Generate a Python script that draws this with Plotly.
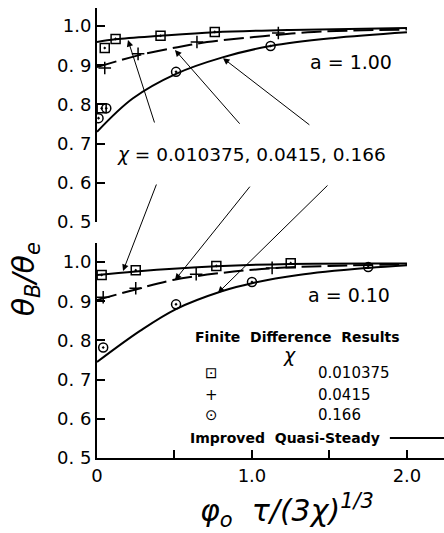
import plotly.graph_objects as go

# ---------------- data ----------------
# Top panel: a = 1.00  (Improved Quasi-Steady curves)
top_c1_x = [0, 0.12, 0.41, 0.76, 1.25, 2.0]
top_c1_y = [0.959, 0.966, 0.975, 0.984, 0.990, 0.995]
top_c2_x = [0, 0.265, 0.52, 0.71, 1.07, 1.4, 2.0]
top_c2_y = [0.895, 0.925, 0.946, 0.959, 0.974, 0.985, 0.991]
top_c3_x = [0, 0.23, 0.51, 0.81, 1.12, 1.52, 2.0]
top_c3_y = [0.73, 0.815, 0.878, 0.92, 0.949, 0.969, 0.984]
# Top panel finite difference results
top_sq_x = [0.03, 0.05, 0.12, 0.41, 0.76]
top_sq_y = [0.79, 0.944, 0.967, 0.975, 0.985]
top_pl_x = [0.05, 0.265, 0.645, 1.17]
top_pl_y = [0.893, 0.929, 0.959, 0.982]
top_ci_x = [0.01, 0.06, 0.51, 1.12]
top_ci_y = [0.765, 0.79, 0.883, 0.949]

# Bottom panel: a = 0.10
bot_c1_x = [0, 0.25, 0.77, 1.25, 2.0]
bot_c1_y = [0.967, 0.976, 0.989, 0.995, 0.996]
bot_c2_x = [0, 0.25, 0.49, 0.8, 1.13, 1.5, 2.0]
bot_c2_y = [0.903, 0.93, 0.954, 0.972, 0.984, 0.99, 0.994]
bot_c3_x = [0, 0.28, 0.51, 0.81, 1.0, 1.3, 1.75, 2.0]
bot_c3_y = [0.745, 0.825, 0.880, 0.926, 0.946, 0.967, 0.985, 0.992]
bot_sq_x = [0.03, 0.25, 0.77, 1.25]
bot_sq_y = [0.967, 0.979, 0.99, 0.997]
bot_pl_x = [0.04, 0.25, 0.64, 1.13]
bot_pl_y = [0.91, 0.933, 0.969, 0.985]
bot_ci_x = [0.04, 0.51, 1.0, 1.75]
bot_ci_y = [0.782, 0.892, 0.949, 0.987]

chi_values = ["0.010375", "0.0415", "0.166"]
x_tickvals = [0, 0.5, 1.0, 1.5, 2.0]
x_ticktext = ["0", "", "1.0", "", "2.0"]
y_tickvals = [0.5, 0.6, 0.7, 0.8, 0.9, 1.0]
y_ticktext = ["0. 5", "0. 6", "0. 7", "0. 8", "0. 9", "1.0"]

# arrow pointers (head x, head y, tail x, tail y)
top_arrows = [(0.2, 0.964, 0.374, 0.75), (0.503, 0.939, 0.929, 0.747), (0.813, 0.918, 1.38, 0.745)]
bot_arrows = [(0.168, 0.977, 0.387, 1.2015), (0.503, 0.954, 0.994, 1.196), (0.78, 0.921, 1.497, 1.199)]

FONT = "DejaVu Sans"
BLACK = "black"

fig = go.Figure()

def curve(x, y, yaxis, dash="solid"):
    fig.add_trace(go.Scatter(x=x, y=y, xaxis="x", yaxis=yaxis, mode="lines",
                             line=dict(color=BLACK, width=2, dash=dash, shape="spline", smoothing=1.0),
                             showlegend=False, hoverinfo="skip"))

def marks(x, y, yaxis, symbol):
    fig.add_trace(go.Scatter(x=x, y=y, xaxis="x", yaxis=yaxis, mode="markers",
                             marker=dict(symbol=symbol, size=9, color=BLACK,
                                         line=dict(color=BLACK, width=1.5)),
                             showlegend=False, hoverinfo="skip"))

curve(top_c1_x, top_c1_y, "y")
curve(top_c2_x, top_c2_y, "y", dash="20px,6px")
curve(top_c3_x, top_c3_y, "y")
marks(top_sq_x, top_sq_y, "y", "square-open-dot")
marks(top_pl_x, top_pl_y, "y", "cross-thin-open")
marks(top_ci_x, top_ci_y, "y", "circle-open-dot")

curve(bot_c1_x, bot_c1_y, "y2")
curve(bot_c2_x, bot_c2_y, "y2", dash="20px,6px")
curve(bot_c3_x, bot_c3_y, "y2")
marks(bot_sq_x, bot_sq_y, "y2", "square-open-dot")
marks(bot_pl_x, bot_pl_y, "y2", "cross-thin-open")
marks(bot_ci_x, bot_ci_y, "y2", "circle-open-dot")

yax_common = dict(tickvals=y_tickvals, ticktext=y_ticktext, ticks="inside", ticklen=8, tickwidth=1.5,
                  tickcolor=BLACK, showline=True, linecolor=BLACK, linewidth=2, showgrid=False,
                  zeroline=False, anchor="x", automargin=False,
                  tickfont=dict(family=FONT, size=18, color=BLACK))

annotations = []
for hx, hy, tx, ty in top_arrows:
    annotations.append(dict(x=hx, y=hy, ax=tx, ay=ty, xref="x", yref="y", axref="x", ayref="y",
                            text="", showarrow=True, arrowhead=2, arrowsize=1.3, arrowwidth=1,
                            arrowcolor=BLACK, standoff=0, startstandoff=0))
for hx, hy, tx, ty in bot_arrows:
    annotations.append(dict(x=hx, y=hy, ax=tx, ay=ty, xref="x", yref="y2", axref="x", ayref="y2",
                            text="", showarrow=True, arrowhead=2, arrowsize=1.3, arrowwidth=1,
                            arrowcolor=BLACK, standoff=0, startstandoff=0))

def txt(text, x, y, xref="paper", yref="paper", size=18, xanchor="center", **kw):
    annotations.append(dict(text=text, x=x, y=y, xref=xref, yref=yref, showarrow=False,
                            xanchor=xanchor, yanchor="middle",
                            font=dict(family=FONT, size=size, color=BLACK), **kw))

txt("a = 1.00", 1.64, 0.908, xref="x", yref="y", size=19)
txt("a = 0.10", 1.626, 0.916, xref="x", yref="y2", size=19)
txt("<i>χ</i> = " + ", ".join(chi_values), 0.116, 0.671, xref="x", yref="y", size=18.5, xanchor="left")

# legend block
txt("<b>Finite  Difference  Results</b>", 0.578, 0.269, size=14)
txt("<i>χ</i>", 0.556, 0.229, size=19)
legend_glyphs = ["⊡", "+", "⊙"]
legend_rows_y = [0.189, 0.140, 0.0956]
for g, v, yy in zip(legend_glyphs, chi_values, legend_rows_y):
    txt(g, 0.331, yy, size=15)
    txt(v, 0.631, yy, size=15, xanchor="left")
txt("<b>Improved  Quasi-Steady</b>", 0.543, 0.0444, size=14)

# axis titles
txt("<i>θ<sub>B</sub>/θ<sub>e</sub></i>", -0.2075, 0.397, size=30, textangle=-90)
txt("<i>φ<sub>o</sub>  τ/(3χ)<sup>1/3</sup></i>", 0.5476, -0.1156, size=30)

shapes = [dict(type="line", xref="paper", yref="paper", x0=0.844, x1=1.0, y0=0.0444, y1=0.0444,
               line=dict(color=BLACK, width=2))]

fig.update_layout(
    width=444, height=533,
    margin=dict(l=97, r=0, t=8, b=75, autoexpand=False),
    paper_bgcolor="white", plot_bgcolor="white",
    showlegend=False,
    xaxis=dict(range=[0, 2.239], anchor="y2", tickvals=x_tickvals, ticktext=x_ticktext,
               ticks="inside", ticklen=8, tickwidth=1.5, tickcolor=BLACK, showline=True,
               linecolor=BLACK, linewidth=2, showgrid=False, zeroline=False, automargin=False,
               tickfont=dict(family=FONT, size=18, color=BLACK)),
    yaxis=dict(domain=[0.5244, 1.0], range=[0.5, 1.0459], **yax_common),
    yaxis2=dict(domain=[0.0, 0.4778], range=[0.5, 1.0485], **yax_common),
    annotations=annotations,
    shapes=shapes,
)

fig.write_html("out.html", config={"displayModeBar": False},
               post_script="document.body.style.margin='0px';document.body.style.overflow='hidden';")
